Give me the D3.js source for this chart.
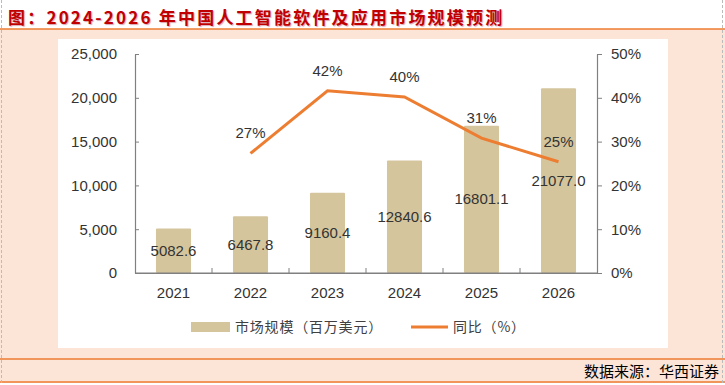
<!DOCTYPE html>
<html><head><meta charset="utf-8">
<script src="https://cdn.jsdelivr.net/npm/d3@7"></script>
<style>
html,body{margin:0;padding:0;background:#fff;}
svg{display:block;}
</style>
</head><body>
<svg id="c" width="725" height="385"></svg>
<script>
const years = ["2021","2022","2023","2024","2025","2026"];
const marketSize = [5082.6, 6467.8, 9160.4, 12840.6, 16801.1, 21077.0];
const marketLabels = ["5082.6","6467.8","9160.4","12840.6","16801.1","21077.0"];
const growthYears = ["2022","2023","2024","2025","2026"];
const growth = [0.273, 0.416, 0.402, 0.308, 0.254];
const growthLabels = ["27%","42%","40%","31%","25%"];
const leftTicks = [0, 5000, 10000, 15000, 20000, 25000];
const rightTicks = [0, 0.1, 0.2, 0.3, 0.4, 0.5];
const title = "图：2024-2026 年中国人工智能软件及应用市场规模预测";
const source = "数据来源：华西证券";
const legendBar = "市场规模（百万美元）";
const legendLine = "同比（%）";

const svg = d3.select("#c");
const numFont = "'Liberation Sans', Arial, sans-serif";
const cjkFont = "'Noto Sans CJK SC', sans-serif";

// frame
svg.append("rect").attr("x",0).attr("y",29).attr("width",725).attr("height",354).attr("fill","#fce4d6");
svg.append("rect").attr("x",58).attr("y",39).attr("width",610).attr("height",309).attr("fill","#ffffff");
[29,359,382].forEach(y=>{
  svg.append("line").attr("x1",0).attr("x2",725).attr("y1",y).attr("y2",y)
    .attr("stroke","#ed7d31").attr("stroke-width",1.5);
});
svg.append("line").attr("x1",1.5).attr("x2",1.5).attr("y1",0).attr("y2",383)
  .attr("stroke","#bbb").attr("stroke-dasharray","3,2");
svg.append("line").attr("x1",722.5).attr("x2",722.5).attr("y1",0).attr("y2",383)
  .attr("stroke","#bbb").attr("stroke-dasharray","3,2");

// title
svg.append("text").attr("x",8).attr("y",24).text(title)
  .attr("font-family",cjkFont).attr("font-weight","bold").attr("font-size",17)
  .attr("letter-spacing",2.2)
  .attr("fill","#c00000").style("text-shadow","1px 1px 1px rgba(150,0,40,0.35)");

// source
svg.append("text").attr("x",719).attr("y",377).attr("text-anchor","end").text(source)
  .attr("font-family",cjkFont).attr("font-size",15).attr("fill","#000");

// scales
const x = d3.scaleBand().domain(years).range([135,597]).paddingInner(0.545).paddingOuter(0.2725);
const y = d3.scaleLinear().domain([0,25000]).range([273,54]);
const y2 = d3.scaleLinear().domain([0,0.5]).range([273,54]);

// bars
svg.append("g").selectAll("rect").data(years).join("rect")
  .attr("x",d=>x(d)).attr("width",x.bandwidth())
  .attr("y",(d,i)=>y(marketSize[i])).attr("height",(d,i)=>y(0)-y(marketSize[i]))
  .attr("fill","#d5c59d").attr("rx",1);

// axes
const axL = svg.append("g").attr("transform","translate(135,0)")
  .call(d3.axisLeft(y).tickValues(leftTicks).tickSizeInner(-4).tickSizeOuter(0).tickFormat(d3.format(",")).tickPadding(18));
const axR = svg.append("g").attr("transform","translate(597,0)")
  .call(d3.axisRight(y2).tickValues(rightTicks).tickSizeInner(5).tickSizeOuter(0).tickFormat(d3.format(".0%")).tickPadding(9));
const axB = svg.append("g").attr("transform","translate(0,273)")
  .call(d3.axisBottom(x).tickSize(0).tickPadding(14));
[axL,axR,axB].forEach(a=>{
  a.selectAll("path").attr("stroke","#808080").attr("stroke-width",1.2);
  a.selectAll("line").attr("stroke","#808080");
  a.selectAll("text").attr("font-family",numFont).attr("font-size",15).attr("fill","#333");
});
// category boundary ticks
svg.append("g").selectAll("line").data(years.slice(1)).join("line")
  .attr("x1",d=>x(d)-x.step()*x.paddingInner()/2).attr("x2",d=>x(d)-x.step()*x.paddingInner()/2)
  .attr("y1",273).attr("y2",268).attr("stroke","#808080");
svg.append("line").attr("x1",135).attr("x2",597).attr("y1",273).attr("y2",273).attr("stroke","#808080").attr("stroke-width",1.2);

// bar labels (centered in bar)
svg.append("g").selectAll("text").data(years).join("text")
  .attr("x",d=>x(d)+x.bandwidth()/2)
  .attr("y",(d,i)=>(y(marketSize[i])+y(0))/2+5)
  .attr("text-anchor","middle").text((d,i)=>marketLabels[i])
  .attr("font-family",numFont).attr("font-size",15).attr("fill","#333");

// line
const line = d3.line().x(d=>x(d[0])+x.bandwidth()/2).y(d=>y2(d[1]));
const pts = growthYears.map((d,i)=>[d,growth[i]]);
svg.append("path").datum(pts).attr("d",line).attr("fill","none")
  .attr("stroke","#ed7d31").attr("stroke-width",3);
svg.append("g").selectAll("text").data(pts).join("text")
  .attr("x",d=>x(d[0])+x.bandwidth()/2).attr("y",d=>y2(d[1])-15)
  .attr("text-anchor","middle").text((d,i)=>growthLabels[i])
  .attr("font-family",numFont).attr("font-size",15).attr("fill","#333");

// legend
svg.append("rect").attr("x",191).attr("y",322).attr("width",39).attr("height",10).attr("fill","#d5c59d");
svg.append("text").attr("x",235).attr("y",332).text(legendBar)
  .attr("font-family",cjkFont).attr("font-size",14).attr("letter-spacing",0.8).attr("fill","#404040");
svg.append("line").attr("x1",411).attr("x2",448).attr("y1",327).attr("y2",327)
  .attr("stroke","#ed7d31").attr("stroke-width",3);
svg.append("text").attr("x",453).attr("y",332).text(legendLine)
  .attr("font-family",cjkFont).attr("font-size",14).attr("letter-spacing",0.8).attr("fill","#404040");
</script>
</body></html>
